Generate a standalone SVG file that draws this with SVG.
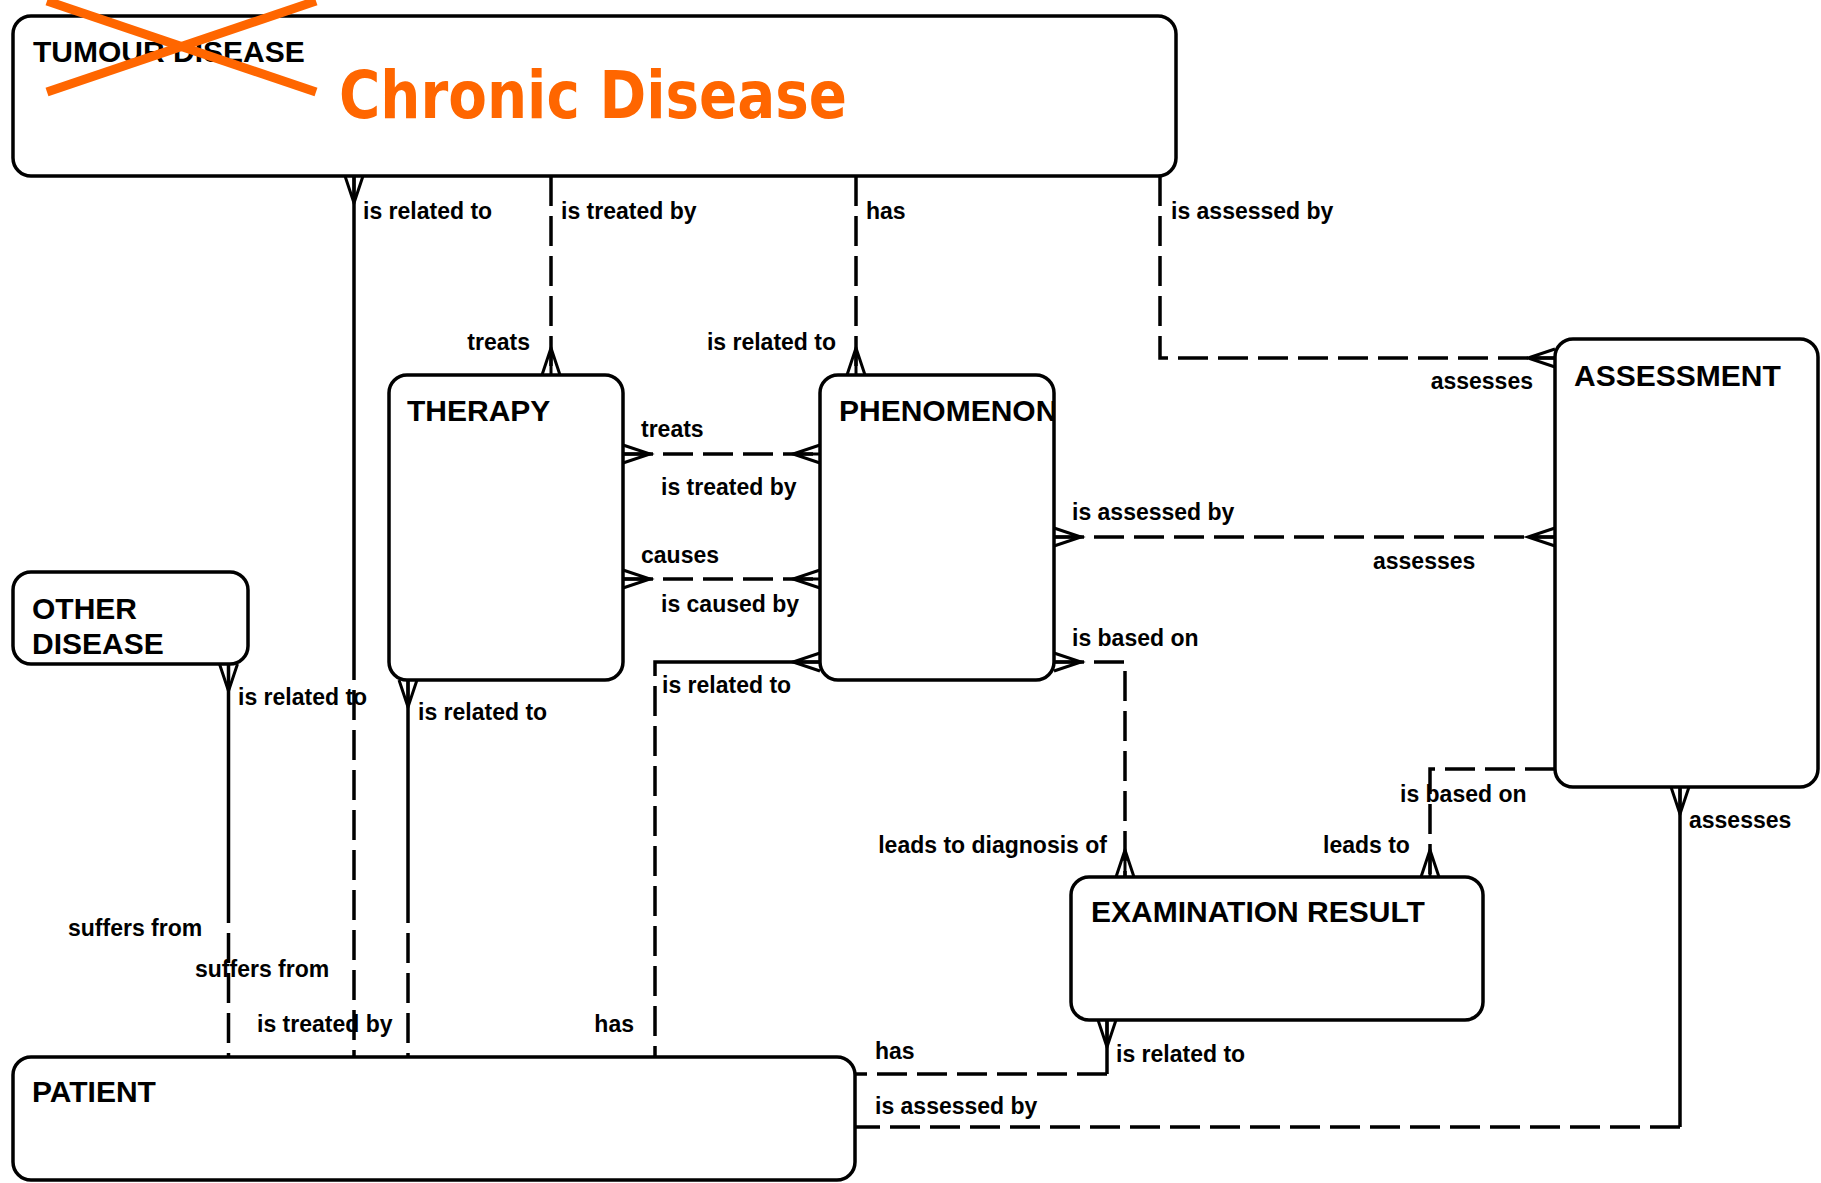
<svg xmlns="http://www.w3.org/2000/svg" xmlns:xlink="http://www.w3.org/1999/xlink" width="1821" height="1183" viewBox="0 0 1821 1183">
<style>
.box{fill:#fff;stroke:#000;stroke-width:3.5}
.title{font-family:"Liberation Sans",Arial,sans-serif;font-weight:bold;font-size:30px;fill:#000}
.lbl{font-family:"Liberation Sans",Arial,sans-serif;font-weight:bold;font-size:23px;fill:#000}
.end{text-anchor:end}
.solid{fill:none;stroke:#000;stroke-width:3.5}
.dash{fill:none;stroke:#000;stroke-width:3.5;stroke-dasharray:30 10}
.crow{fill:none;stroke:#000;stroke-width:3}
</style>
<defs>
<path id="crow" class="crow" d="M-9,0 L0,27 L9,0 M0,0 L0,27"/>
<clipPath id="phenClip"><rect x="820" y="375" width="233" height="305"/></clipPath>
</defs>
<rect width="1821" height="1183" fill="#fff"/>
<g id="connectors">
<!-- 1 TUMOUR - PATIENT -->
<path class="solid" d="M354,176 V650"/>
<path class="dash" d="M354,650 V1057"/>
<use xlink:href="#crow" transform="translate(354,176)"/>
<!-- 2 TUMOUR - THERAPY -->
<path class="dash" d="M551,176 V375"/>
<use xlink:href="#crow" transform="translate(551,375) rotate(180)"/>
<!-- 3 TUMOUR - PHENOMENON -->
<path class="dash" d="M856,176 V375"/>
<use xlink:href="#crow" transform="translate(856,375) rotate(180)"/>
<!-- 4 TUMOUR - ASSESSMENT -->
<path class="dash" d="M1160,176 V358 H1555"/>
<use xlink:href="#crow" transform="translate(1555,358) rotate(90)"/>
<!-- 5 THERAPY - PHENOMENON treats -->
<path class="dash" d="M623,454 H820"/>
<use xlink:href="#crow" transform="translate(623,454) rotate(-90)"/>
<use xlink:href="#crow" transform="translate(820,454) rotate(90)"/>
<!-- 6 causes -->
<path class="dash" d="M623,579 H820"/>
<use xlink:href="#crow" transform="translate(623,579) rotate(-90)"/>
<use xlink:href="#crow" transform="translate(820,579) rotate(90)"/>
<!-- 7 PHENOMENON - PATIENT -->
<path class="solid" d="M820,662 H655 V676"/>
<path class="dash" d="M655,686 V1057"/>
<use xlink:href="#crow" transform="translate(820,662) rotate(90)"/>
<!-- 8 THERAPY - PATIENT -->
<path class="solid" d="M408,680 V893"/>
<path class="dash" d="M408,893 V1057"/>
<use xlink:href="#crow" transform="translate(408,680)"/>
<!-- 9 OTHER DISEASE - PATIENT -->
<path class="solid" d="M228.5,664 V893"/>
<path class="dash" d="M228.5,893 V1057"/>
<use xlink:href="#crow" transform="translate(228.5,664)"/>
<!-- 10 PHENOMENON - ASSESSMENT -->
<path class="dash" d="M1054,537 H1555"/>
<use xlink:href="#crow" transform="translate(1054,537) rotate(-90)"/>
<use xlink:href="#crow" transform="translate(1555,537) rotate(90)"/>
<!-- 11 PHENOMENON - EXAMINATION -->
<path class="dash" d="M1054,662 H1125 V877"/>
<use xlink:href="#crow" transform="translate(1054,662) rotate(-90)"/>
<use xlink:href="#crow" transform="translate(1125,877) rotate(180)"/>
<!-- 12 ASSESSMENT - EXAMINATION -->
<path class="dash" d="M1555,769 H1430 V877"/>
<use xlink:href="#crow" transform="translate(1430,877) rotate(180)"/>
<!-- 13 EXAMINATION - PATIENT -->
<path class="solid" d="M1107,1020 V1074"/>
<path class="dash" d="M1107,1074 H855"/>
<use xlink:href="#crow" transform="translate(1107,1020)"/>
<!-- 14 ASSESSMENT - PATIENT -->
<path class="solid" d="M1680,787 V1127"/>
<path class="dash" d="M1680,1127 H855"/>
<use xlink:href="#crow" transform="translate(1680,787)"/>
</g>
<g id="connector-labels">
<text class="lbl" x="363" y="218.5">is related to</text>
<text class="lbl" x="195" y="976.5">suffers from</text>
<text class="lbl" x="561" y="218.5">is treated by</text>
<text class="lbl end" x="530" y="349.5">treats</text>
<text class="lbl" x="866" y="218.5">has</text>
<text class="lbl end" x="836" y="349.5">is related to</text>
<text class="lbl" x="1171" y="218.5">is assessed by</text>
<text class="lbl end" x="1533" y="388.5">assesses</text>
<text class="lbl" x="641" y="436.5">treats</text>
<text class="lbl" x="661" y="494.5">is treated by</text>
<text class="lbl" x="641" y="562.5">causes</text>
<text class="lbl" x="661" y="611.5">is caused by</text>
<text class="lbl" x="662" y="692.5">is related to</text>
<text class="lbl end" x="634" y="1031.5">has</text>
<text class="lbl" x="418" y="719.5">is related to</text>
<text class="lbl" x="257" y="1031.5">is treated by</text>
<text class="lbl" x="238" y="704.5">is related to</text>
<text class="lbl" x="68" y="935.5">suffers from</text>
<text class="lbl" x="1072" y="519.5">is assessed by</text>
<text class="lbl" x="1373" y="568.5">assesses</text>
<text class="lbl" x="1072" y="645.5">is based on</text>
<text class="lbl end" x="1107" y="852.5">leads to diagnosis of</text>
<text class="lbl" x="1400" y="801.5">is based on</text>
<text class="lbl" x="1323" y="852.5">leads to</text>
<text class="lbl" x="1116" y="1061.5">is related to</text>
<text class="lbl" x="875" y="1058.5">has</text>
<text class="lbl" x="1689" y="827.5">assesses</text>
<text class="lbl" x="875" y="1113.5">is assessed by</text>
</g>
<g id="node-disease">
<rect class="box" x="13" y="16" width="1163" height="160" rx="18"/>
<text class="title" x="33" y="62">TUMOUR DISEASE</text>
<line x1="47" y1="1" x2="316" y2="92" stroke="#ff6600" stroke-width="9"/>
<line x1="47" y1="92" x2="316" y2="1" stroke="#ff6600" stroke-width="9"/>
<text x="339" y="118" font-family="'DejaVu Sans',Verdana,sans-serif" font-weight="bold" font-size="66" fill="#ff6600" textLength="508" lengthAdjust="spacingAndGlyphs">Chronic Disease</text>
</g>
<g id="node-therapy">
<rect class="box" x="389" y="375" width="234" height="305" rx="18"/>
<text class="title" x="407" y="421">THERAPY</text>
</g>
<g id="node-phenomenon">
<rect class="box" x="820" y="375" width="234" height="305" rx="18"/>
<text class="title" x="839" y="421" clip-path="url(#phenClip)">PHENOMENON</text>
</g>
<g id="node-assessment">
<rect class="box" x="1555" y="339" width="263" height="448" rx="18"/>
<text class="title" x="1574" y="386">ASSESSMENT</text>
</g>
<g id="node-other-disease">
<rect class="box" x="13" y="572" width="235" height="92" rx="18"/>
<text class="title" x="32" y="619">OTHER</text>
<text class="title" x="32" y="654">DISEASE</text>
</g>
<g id="node-examination">
<rect class="box" x="1071" y="877" width="412" height="143" rx="18"/>
<text class="title" x="1091" y="922">EXAMINATION RESULT</text>
</g>
<g id="node-patient">
<rect class="box" x="13" y="1057" width="842" height="123" rx="18"/>
<text class="title" x="32" y="1102">PATIENT</text>
</g>
</svg>
